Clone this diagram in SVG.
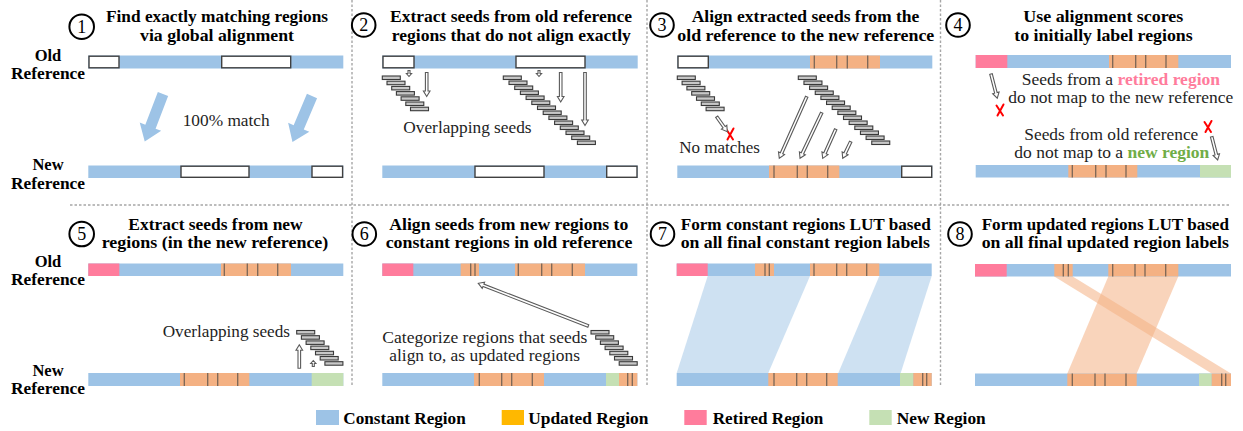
<svg xmlns="http://www.w3.org/2000/svg" width="1243" height="431" viewBox="0 0 1243 431">
<style>
.c{fill:#9DC3E6}.u{fill:#F4B183}.r{fill:#FF7C9C}.n{fill:#C5E0B4}
.w{fill:#fff;stroke:#404040;stroke-width:1.4}
.t{stroke:#7A6656;stroke-width:1.3}
.s{fill:#C8C8C8;stroke:#3A3A3A;stroke-width:1.1}
.ha{fill:#fff;stroke:#5A5A5A;stroke-width:1.1}
.ba{fill:#9DC3E6}
.x{fill:none;stroke:#FF0000;stroke-width:2;stroke-linecap:round}
.dv{stroke:#A6A6A6;stroke-width:1.4;stroke-dasharray:2.5 2;fill:none}
.num{fill:#fff;stroke:#000;stroke-width:2}
.nt{font-family:"Liberation Serif",serif;font-size:18px;text-anchor:middle;fill:#000}
.ti{font-family:"Liberation Serif",serif;font-weight:bold;font-size:16px;text-anchor:middle;fill:#000}
.lb{font-family:"Liberation Serif",serif;font-weight:bold;font-size:16.5px;text-anchor:middle;fill:#000}
.bd{font-family:"Liberation Serif",serif;font-size:17px;fill:#1E1E1E}
.lg{font-family:"Liberation Serif",serif;font-weight:bold;font-size:16.5px;fill:#000}
.bc{fill:#9DC3E6;opacity:0.5}.oc{fill:#F4B183;opacity:0.55}
</style>

<g id="dividers">
<line class="dv" x1="352" y1="0" x2="352" y2="386"/>
<line class="dv" x1="647" y1="0" x2="647" y2="386"/>
<line class="dv" x1="940.5" y1="0" x2="940.5" y2="386"/>
<line class="dv" x1="70" y1="205" x2="1230" y2="205"/>
</g>

<g id="step1">
<circle class="num" cx="81.7" cy="26.7" r="12.3"/>
<text class="nt" x="81.7" y="32.8">1</text>
<text class="ti" x="217" y="22.3" textLength="222" lengthAdjust="spacingAndGlyphs">Find exactly matching regions</text>
<text class="ti" x="217" y="40.7" textLength="154" lengthAdjust="spacingAndGlyphs">via global alignment</text>
<text class="lb" x="48" y="60.7">Old</text>
<text class="lb" x="48" y="79.3" textLength="74" lengthAdjust="spacingAndGlyphs">Reference</text>
<text class="lb" x="48" y="170">New</text>
<text class="lb" x="48" y="189.3" textLength="74" lengthAdjust="spacingAndGlyphs">Reference</text>
<rect class="c" x="88.3" y="55.5" width="255" height="13"/>
<rect class="w" x="89" y="56.2" width="30" height="11.6"/>
<rect class="w" x="221.7" y="56.2" width="69" height="11.6"/>
<rect class="c" x="88.3" y="165.5" width="255" height="12.5"/>
<rect class="w" x="181" y="166.2" width="68" height="11.1"/>
<rect class="w" x="312" y="166.2" width="30.6" height="11.1"/>
<text class="bd" x="182.7" y="125.5" textLength="87" lengthAdjust="spacingAndGlyphs">100% match</text>
</g>

<g id="step2">
<circle class="num" cx="363.7" cy="25" r="11.8"/>
<text class="nt" x="363.7" y="31">2</text>
<text class="ti" x="511" y="22" textLength="242" lengthAdjust="spacingAndGlyphs">Extract seeds from old reference</text>
<text class="ti" x="511.3" y="40.7" textLength="239" lengthAdjust="spacingAndGlyphs">regions that do not align exactly</text>
<rect class="c" x="382.3" y="55.5" width="255.4" height="13"/>
<rect class="w" x="383" y="56.2" width="31" height="11.6"/>
<rect class="w" x="516" y="56.2" width="69" height="11.6"/>
<rect class="c" x="382.3" y="165.5" width="255.4" height="12.5"/>
<rect class="w" x="475" y="166.2" width="69" height="11.1"/>
<rect class="w" x="606.7" y="166.2" width="30.3" height="11.1"/>
<g id="seeds2a">
<rect class="s" x="382.3" y="76" width="18" height="3.5"/><rect class="s" x="387" y="81.2" width="18" height="3.5"/><rect class="s" x="391.7" y="86.4" width="18" height="3.5"/><rect class="s" x="396.4" y="91.6" width="18" height="3.5"/><rect class="s" x="401.1" y="96.8" width="18" height="3.5"/><rect class="s" x="405.8" y="102" width="18" height="3.5"/><rect class="s" x="410.5" y="107.2" width="18" height="3.5"/>
</g>
<g id="seeds2b">
<rect class="s" x="503.3" y="76" width="18" height="3.5"/><rect class="s" x="509" y="81" width="18" height="3.5"/><rect class="s" x="514.7" y="86" width="18" height="3.5"/><rect class="s" x="520.4" y="91" width="18" height="3.5"/><rect class="s" x="526.1" y="96" width="18" height="3.5"/><rect class="s" x="531.8" y="101" width="18" height="3.5"/><rect class="s" x="537.5" y="106" width="18" height="3.5"/><rect class="s" x="543.2" y="111" width="18" height="3.5"/><rect class="s" x="548.9" y="116" width="18" height="3.5"/><rect class="s" x="554.6" y="121" width="18" height="3.5"/><rect class="s" x="560.3" y="126" width="18" height="3.5"/><rect class="s" x="566" y="131" width="18" height="3.5"/><rect class="s" x="571.7" y="136" width="18" height="3.5"/><rect class="s" x="577.4" y="141" width="18" height="3.5"/>
</g>
<text class="bd" x="403.3" y="132.7" textLength="128.3" lengthAdjust="spacingAndGlyphs">Overlapping seeds</text>
</g>

<g id="step3">
<circle class="num" cx="662" cy="25" r="11.8"/>
<text class="nt" x="662" y="31">3</text>
<text class="ti" x="805.5" y="22" textLength="227.7" lengthAdjust="spacingAndGlyphs">Align extracted seeds from the</text>
<text class="ti" x="805.8" y="40.7" textLength="257" lengthAdjust="spacingAndGlyphs">old reference to the new reference</text>
<rect class="c" x="677.3" y="55.5" width="255" height="13"/>
<rect class="w" x="678" y="56.2" width="30.3" height="11.6"/>
<rect class="u" x="810" y="55.5" width="70" height="13"/>
<line class="t" x1="814.3" y1="55.5" x2="814.3" y2="68.5"/><line class="t" x1="836.7" y1="55.5" x2="836.7" y2="68.5"/><line class="t" x1="847.3" y1="55.5" x2="847.3" y2="68.5"/><line class="t" x1="867.7" y1="55.5" x2="867.7" y2="68.5"/>
<rect class="c" x="677.3" y="165.5" width="255" height="12.5"/>
<rect class="u" x="769" y="165.5" width="70.3" height="12.5"/>
<line class="t" x1="774" y1="165.5" x2="774" y2="178"/><line class="t" x1="797.3" y1="165.5" x2="797.3" y2="178"/><line class="t" x1="807.3" y1="165.5" x2="807.3" y2="178"/><line class="t" x1="827.7" y1="165.5" x2="827.7" y2="178"/>
<rect class="w" x="901.7" y="166.2" width="30" height="11.1"/>
<g id="seeds3a">
<rect class="s" x="677.3" y="76" width="18" height="3.5"/><rect class="s" x="682.1" y="81.2" width="18" height="3.5"/><rect class="s" x="686.9" y="86.4" width="18" height="3.5"/><rect class="s" x="691.7" y="91.6" width="18" height="3.5"/><rect class="s" x="696.5" y="96.8" width="18" height="3.5"/><rect class="s" x="701.3" y="102" width="18" height="3.5"/><rect class="s" x="706.1" y="107.2" width="18" height="3.5"/>
</g>
<g id="seeds3b">
<rect class="s" x="798.3" y="76" width="18" height="3.5"/><rect class="s" x="803.95" y="81" width="18" height="3.5"/><rect class="s" x="809.6" y="86" width="18" height="3.5"/><rect class="s" x="815.25" y="91" width="18" height="3.5"/><rect class="s" x="820.9" y="96" width="18" height="3.5"/><rect class="s" x="826.55" y="101" width="18" height="3.5"/><rect class="s" x="832.2" y="106" width="18" height="3.5"/><rect class="s" x="837.85" y="111" width="18" height="3.5"/><rect class="s" x="843.5" y="116" width="18" height="3.5"/><rect class="s" x="849.15" y="121" width="18" height="3.5"/><rect class="s" x="854.8" y="126" width="18" height="3.5"/><rect class="s" x="860.45" y="131" width="18" height="3.5"/><rect class="s" x="866.1" y="136" width="18" height="3.5"/><rect class="s" x="871.75" y="141" width="18" height="3.5"/>
</g>
<path class="x" d="M726.5,129.5 L733,139.5 M733.5,128.5 L727.5,139.5"/>
<text class="bd" x="679.3" y="153.3" textLength="80.7" lengthAdjust="spacingAndGlyphs">No matches</text>
</g>

<g id="step4">
<circle class="num" cx="958" cy="25" r="11.8"/>
<text class="nt" x="958" y="31">4</text>
<text class="ti" x="1103.3" y="22" textLength="160" lengthAdjust="spacingAndGlyphs">Use alignment scores</text>
<text class="ti" x="1103.5" y="40.7" textLength="178.4" lengthAdjust="spacingAndGlyphs">to initially label regions</text>
<rect class="c" x="975.7" y="55" width="255.3" height="13"/>
<rect class="r" x="975.7" y="55" width="31.6" height="13"/>
<rect class="u" x="1109" y="55" width="69.3" height="13"/>
<line class="t" x1="1112.7" y1="55" x2="1112.7" y2="68"/><line class="t" x1="1135.7" y1="55" x2="1135.7" y2="68"/><line class="t" x1="1145.7" y1="55" x2="1145.7" y2="68"/><line class="t" x1="1166" y1="55" x2="1166" y2="68"/>
<rect class="c" x="975.7" y="165" width="255.3" height="12.5"/>
<rect class="u" x="1068.3" y="165" width="69" height="12.5"/>
<line class="t" x1="1072.3" y1="165" x2="1072.3" y2="177.5"/><line class="t" x1="1095.7" y1="165" x2="1095.7" y2="177.5"/><line class="t" x1="1106" y1="165" x2="1106" y2="177.5"/><line class="t" x1="1126" y1="165" x2="1126" y2="177.5"/>
<rect class="n" x="1200" y="165" width="31" height="12.5"/>
<path class="x" d="M996.5,105.5 L1003,115.5 M1003.5,104.5 L997.5,115.5"/>
<path class="x" d="M1204.5,122 L1211,132 M1211.5,121 L1205.5,132"/>
<text class="bd" x="1021.7" y="85.3" textLength="198.3" lengthAdjust="spacingAndGlyphs">Seeds from a <tspan font-weight="bold" fill="#FF7C9C">retired region</tspan></text>
<text class="bd" x="1008.3" y="103.3" textLength="225" lengthAdjust="spacingAndGlyphs">do not map to the new reference</text>
<text class="bd" x="1024.3" y="140" textLength="174" lengthAdjust="spacingAndGlyphs">Seeds from old reference</text>
<text class="bd" x="1014.3" y="158.3" textLength="195" lengthAdjust="spacingAndGlyphs">do not map to a <tspan font-weight="bold" fill="#70AD47">new region</tspan></text>
</g>

<g id="step5">
<circle class="num" cx="81.7" cy="234" r="12.3"/>
<text class="nt" x="81.7" y="240.1">5</text>
<text class="ti" x="215.5" y="229.5" textLength="174.3" lengthAdjust="spacingAndGlyphs">Extract seeds from new</text>
<text class="ti" x="215" y="248.3" textLength="226.7" lengthAdjust="spacingAndGlyphs">regions (in the new reference)</text>
<text class="lb" x="48" y="266.7">Old</text>
<text class="lb" x="48" y="285.3" textLength="74" lengthAdjust="spacingAndGlyphs">Reference</text>
<text class="lb" x="48" y="375.5">New</text>
<text class="lb" x="48" y="394.3" textLength="74" lengthAdjust="spacingAndGlyphs">Reference</text>
<rect class="c" x="88.3" y="263.5" width="255" height="12.5"/>
<rect class="r" x="88.3" y="263.5" width="31" height="12.5"/>
<rect class="u" x="221" y="263.5" width="70" height="12.5"/>
<line class="t" x1="224.3" y1="263.5" x2="224.3" y2="276"/><line class="t" x1="247.3" y1="263.5" x2="247.3" y2="276"/><line class="t" x1="257.7" y1="263.5" x2="257.7" y2="276"/><line class="t" x1="277.7" y1="263.5" x2="277.7" y2="276"/>
<rect class="c" x="88.3" y="373" width="255" height="13"/>
<rect class="u" x="180" y="373" width="69.3" height="13"/>
<line class="t" x1="184.3" y1="373" x2="184.3" y2="386"/><line class="t" x1="207.7" y1="373" x2="207.7" y2="386"/><line class="t" x1="217.7" y1="373" x2="217.7" y2="386"/><line class="t" x1="237.7" y1="373" x2="237.7" y2="386"/>
<rect class="n" x="311.7" y="373" width="31.6" height="13"/>
<g id="seeds5">
<rect class="s" x="296.7" y="330.5" width="18" height="3.5"/><rect class="s" x="301.4" y="335.7" width="18" height="3.5"/><rect class="s" x="306.1" y="340.9" width="18" height="3.5"/><rect class="s" x="310.8" y="346.1" width="18" height="3.5"/><rect class="s" x="315.5" y="351.3" width="18" height="3.5"/><rect class="s" x="320.2" y="356.5" width="18" height="3.5"/><rect class="s" x="324.9" y="361.7" width="18" height="3.5"/>
</g>
<text class="bd" x="162.7" y="337.3" textLength="127.3" lengthAdjust="spacingAndGlyphs">Overlapping seeds</text>
</g>

<g id="step6">
<circle class="num" cx="364.3" cy="234" r="11.8"/>
<text class="nt" x="364.3" y="240.1">6</text>
<text class="ti" x="508.8" y="229.5" textLength="239" lengthAdjust="spacingAndGlyphs">Align seeds from new regions to</text>
<text class="ti" x="509" y="248.3" textLength="246.7" lengthAdjust="spacingAndGlyphs">constant regions in old reference</text>
<rect class="c" x="382.3" y="263.5" width="255" height="12.5"/>
<rect class="r" x="382.3" y="263.5" width="31" height="12.5"/>
<rect class="u" x="460.7" y="263.5" width="18.3" height="12.5"/>
<line class="t" x1="470.7" y1="263.5" x2="470.7" y2="276"/><line class="t" x1="475" y1="263.5" x2="475" y2="276"/>
<rect class="u" x="515" y="263.5" width="70" height="12.5"/>
<line class="t" x1="518.3" y1="263.5" x2="518.3" y2="276"/><line class="t" x1="541.7" y1="263.5" x2="541.7" y2="276"/><line class="t" x1="551.7" y1="263.5" x2="551.7" y2="276"/><line class="t" x1="572.3" y1="263.5" x2="572.3" y2="276"/>
<rect class="c" x="382.3" y="373" width="255" height="13"/>
<rect class="u" x="474" y="373" width="70" height="13"/>
<line class="t" x1="479.3" y1="373" x2="479.3" y2="386"/><line class="t" x1="501.7" y1="373" x2="501.7" y2="386"/><line class="t" x1="511.7" y1="373" x2="511.7" y2="386"/><line class="t" x1="532.3" y1="373" x2="532.3" y2="386"/>
<rect class="n" x="606" y="373" width="13" height="13"/>
<rect class="u" x="619" y="373" width="18.3" height="13"/>
<line class="t" x1="627.7" y1="373" x2="627.7" y2="386"/><line class="t" x1="632.3" y1="373" x2="632.3" y2="386"/>
<g id="seeds6">
<rect class="s" x="591" y="330.5" width="18" height="3.5"/><rect class="s" x="595.7" y="335.7" width="18" height="3.5"/><rect class="s" x="600.4" y="340.9" width="18" height="3.5"/><rect class="s" x="605.1" y="346.1" width="18" height="3.5"/><rect class="s" x="609.8" y="351.3" width="18" height="3.5"/><rect class="s" x="614.5" y="356.5" width="18" height="3.5"/><rect class="s" x="619.2" y="361.7" width="18" height="3.5"/>
</g>
<text class="bd" x="382.3" y="342.7" textLength="205" lengthAdjust="spacingAndGlyphs">Categorize regions that seeds</text>
<text class="bd" x="389.3" y="360.7" textLength="190.7" lengthAdjust="spacingAndGlyphs">align to, as updated regions</text>
</g>

<g id="step7">
<circle class="num" cx="662.5" cy="234" r="11.8"/>
<text class="nt" x="662.5" y="240.1">7</text>
<text class="ti" x="805.7" y="229.5" textLength="250" lengthAdjust="spacingAndGlyphs">Form constant regions LUT based</text>
<text class="ti" x="805.3" y="248.3" textLength="249.3" lengthAdjust="spacingAndGlyphs">on all final constant region labels</text>
<polygon class="bc" points="707.7,276 810,276 768.3,373 676.7,373"/>
<polygon class="bc" points="879.3,276 931.7,276 900.7,373 838.3,373"/>
<rect class="c" x="676.7" y="263.5" width="255" height="12.5"/>
<rect class="r" x="676.7" y="263.5" width="31" height="12.5"/>
<rect class="u" x="755" y="263.5" width="19" height="12.5"/>
<line class="t" x1="765" y1="263.5" x2="765" y2="276"/><line class="t" x1="769.3" y1="263.5" x2="769.3" y2="276"/>
<rect class="u" x="810" y="263.5" width="69.3" height="12.5"/>
<line class="t" x1="814" y1="263.5" x2="814" y2="276"/><line class="t" x1="836.7" y1="263.5" x2="836.7" y2="276"/><line class="t" x1="846.7" y1="263.5" x2="846.7" y2="276"/><line class="t" x1="866.7" y1="263.5" x2="866.7" y2="276"/>
<rect class="c" x="676.7" y="373" width="255" height="13"/>
<rect class="u" x="768.3" y="373" width="69.4" height="13"/>
<line class="t" x1="774" y1="373" x2="774" y2="386"/><line class="t" x1="796.7" y1="373" x2="796.7" y2="386"/><line class="t" x1="806.7" y1="373" x2="806.7" y2="386"/><line class="t" x1="826.7" y1="373" x2="826.7" y2="386"/>
<rect class="n" x="900" y="373" width="13.3" height="13"/>
<rect class="u" x="913.3" y="373" width="18.4" height="13"/>
<line class="t" x1="922.7" y1="373" x2="922.7" y2="386"/><line class="t" x1="926.7" y1="373" x2="926.7" y2="386"/>
</g>

<g id="step8">
<circle class="num" cx="960" cy="234" r="11.8"/>
<text class="nt" x="960" y="240.1">8</text>
<text class="ti" x="1105.3" y="229.5" textLength="247.3" lengthAdjust="spacingAndGlyphs">Form updated regions LUT based</text>
<text class="ti" x="1105.3" y="248.3" textLength="247.3" lengthAdjust="spacingAndGlyphs">on all final updated region labels</text>
<polygon class="oc" points="1108.3,276.5 1178.3,276.5 1136.7,373.5 1067.3,373.5"/>
<polygon class="oc" points="1054.3,276.5 1072.7,276.5 1231,373.5 1211.7,373.5"/>
<rect class="c" x="975" y="264" width="256" height="12.5"/>
<rect class="r" x="975" y="264" width="31.7" height="12.5"/>
<rect class="u" x="1054.3" y="264" width="18.4" height="12.5"/>
<line class="t" x1="1063.3" y1="264" x2="1063.3" y2="276.5"/><line class="t" x1="1068.3" y1="264" x2="1068.3" y2="276.5"/>
<rect class="u" x="1108.3" y="264" width="70" height="12.5"/>
<line class="t" x1="1112.7" y1="264" x2="1112.7" y2="276.5"/><line class="t" x1="1135" y1="264" x2="1135" y2="276.5"/><line class="t" x1="1145" y1="264" x2="1145" y2="276.5"/><line class="t" x1="1165.7" y1="264" x2="1165.7" y2="276.5"/>
<rect class="c" x="975" y="373.5" width="256" height="12.5"/>
<rect class="u" x="1067.3" y="373.5" width="69.4" height="12.5"/>
<line class="t" x1="1072.3" y1="373.5" x2="1072.3" y2="386"/><line class="t" x1="1095" y1="373.5" x2="1095" y2="386"/><line class="t" x1="1105" y1="373.5" x2="1105" y2="386"/><line class="t" x1="1126" y1="373.5" x2="1126" y2="386"/>
<rect class="n" x="1199" y="373.5" width="12.7" height="12.5"/>
<rect class="u" x="1211.7" y="373.5" width="19.3" height="12.5"/>
<line class="t" x1="1221.7" y1="373.5" x2="1221.7" y2="386"/><line class="t" x1="1225.7" y1="373.5" x2="1225.7" y2="386"/>
</g>

<g id="connectors">
<path class="ba" transform="translate(163,94) rotate(111)" d="M0,-5.5 H35 V-11.5 L51,0 L35,11.5 V5.5 H0 Z"/>
<path class="ba" transform="translate(312,96) rotate(113)" d="M0,-5.5 H34 V-11.5 L50,0 L34,11.5 V5.5 H0 Z"/>
<path class="ha" transform="translate(409,70.5) rotate(90)" d="M0,-1 H3 V-2.6 L6,0 L3,2.6 V1 H0 Z"/>
<path class="ha" transform="translate(426.7,72.5) rotate(90)" d="M0,-1.3 H18.5 V-3.3 L24,0 L18.5,3.3 V1.3 H0 Z"/>
<path class="ha" transform="translate(539,70.5) rotate(90)" d="M0,-1 H3 V-2.6 L6,0 L3,2.6 V1 H0 Z"/>
<path class="ha" transform="translate(560.7,72.5) rotate(90)" d="M0,-1.3 H24 V-3.3 L29.5,0 L24,3.3 V1.3 H0 Z"/>
<path class="ha" transform="translate(585,72.5) rotate(90)" d="M0,-1.3 H47.5 V-3.3 L53,0 L47.5,3.3 V1.3 H0 Z"/>
<path class="ha" transform="translate(716.7,116.7) rotate(54.8)" d="M0,-1.3 H12.9 V-3.3 L18.4,0 L12.9,3.3 V1.3 H0 Z"/>
<path class="ha" transform="translate(806.7,96.7) rotate(114)" d="M0,-1.3 H61.9 V-3.3 L67.4,0 L61.9,3.3 V1.3 H0 Z"/>
<path class="ha" transform="translate(821.7,112.7) rotate(115.4)" d="M0,-1.3 H45 V-3.3 L50.5,0 L45,3.3 V1.3 H0 Z"/>
<path class="ha" transform="translate(835.7,129.3) rotate(114.1)" d="M0,-1.3 H26.3 V-3.3 L31.8,0 L26.3,3.3 V1.3 H0 Z"/>
<path class="ha" transform="translate(850.7,141.7) rotate(115.7)" d="M0,-1.3 H12.9 V-3.3 L18.4,0 L12.9,3.3 V1.3 H0 Z"/>
<path class="ha" transform="translate(991,74) rotate(75.5)" d="M0,-1.3 H19.5 V-3.3 L25,0 L19.5,3.3 V1.3 H0 Z"/>
<path class="ha" transform="translate(1211.7,136.7) rotate(75.6)" d="M0,-1.3 H18.5 V-3.3 L24,0 L18.5,3.3 V1.3 H0 Z"/>
<path class="ha" transform="translate(299.3,368.3) rotate(-90)" d="M0,-1.3 H18 V-3.3 L23.5,0 L18,3.3 V1.3 H0 Z"/>
<path class="ha" transform="translate(313.3,366.5) rotate(-90)" d="M0,-1 H3 V-2.6 L6,0 L3,2.6 V1 H0 Z"/>
<path class="ha" transform="translate(588.3,326) rotate(-158.8)" d="M0,-1.3 H112.5 V-3.3 L118,0 L112.5,3.3 V1.3 H0 Z"/>
</g>

<g id="legend">
<rect class="c" x="316" y="410" width="23" height="15"/>
<text class="lg" x="343.3" y="424" textLength="122.4" lengthAdjust="spacingAndGlyphs">Constant Region</text>
<rect fill="#FFB800" x="501.7" y="410" width="22.3" height="15"/>
<text class="lg" x="528.3" y="424" textLength="120" lengthAdjust="spacingAndGlyphs">Updated Region</text>
<rect class="r" x="684.3" y="410" width="22.4" height="15"/>
<text class="lg" x="712.7" y="424" textLength="110.6" lengthAdjust="spacingAndGlyphs">Retired Region</text>
<rect class="n" x="869.3" y="410" width="22.4" height="15"/>
<text class="lg" x="896.7" y="424" textLength="89" lengthAdjust="spacingAndGlyphs">New Region</text>
</g>
</svg>
